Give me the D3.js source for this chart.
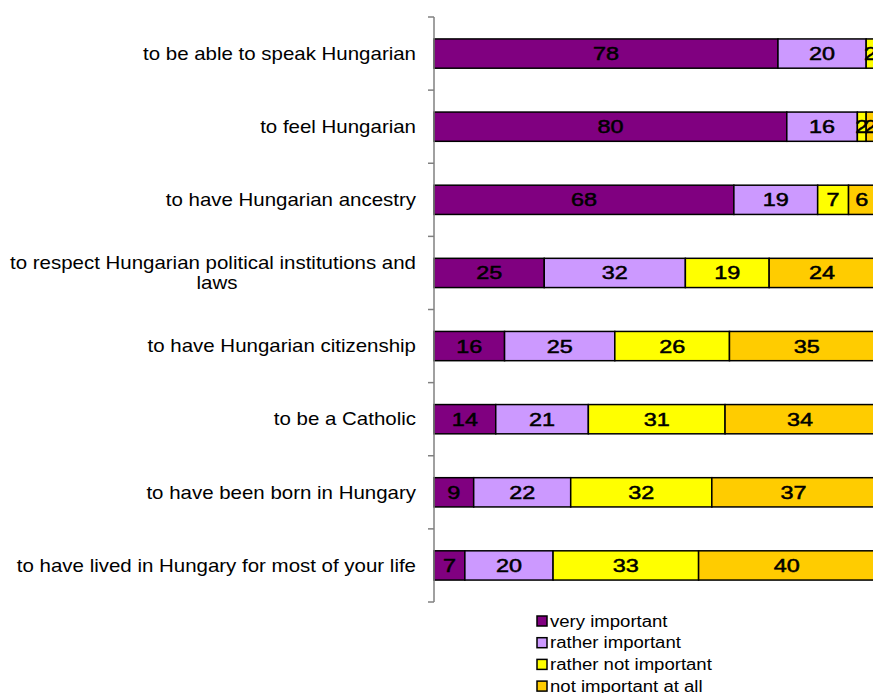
<!DOCTYPE html>
<html>
<head>
<meta charset="utf-8">
<script src="https://cdn.jsdelivr.net/npm/d3@7"></script>
<style>
  html, body { margin: 0; padding: 0; background: #fff; }
  svg { display: block; font-family: "Liberation Sans", Arial, sans-serif; }
</style>
</head>
<body>
<svg id="chart" width="873" height="693"></svg>
<script>
// Survey items (top to bottom)
const categories = [
  "to be able to speak Hungarian",
  "to feel Hungarian",
  "to have Hungarian ancestry",
  "to respect Hungarian political institutions and laws",
  "to have Hungarian citizenship",
  "to be a Catholic",
  "to have been born in Hungary",
  "to have lived in Hungary for most of your life"
];
const seriesNames = ["very important", "rather important", "rather not important", "not important at all"];
const veryImportant      = [78, 80, 68, 25, 16, 14, 9, 7];
const ratherImportant    = [20, 16, 19, 32, 25, 21, 22, 20];
const ratherNotImportant = [2, 2, 7, 19, 26, 31, 32, 33];
const notImportantAtAll  = [0, 2, 6, 24, 35, 34, 37, 40];
const seriesColors = ["#800080", "#CC99FF", "#FFFF00", "#FFCC00"];

const svg = d3.select("#chart");
const margin = { left: 434, top: 17, bottom: 91 };
const plotH = 693 - margin.top - margin.bottom;
const stretch = 1.17;   // wide text rendering

// places a horizontally widened text at (px, py)
function wideText(parent, px, py, str, size, anchor, sx) {
  return parent.append("text")
    .attr("transform", `translate(${px},${py}) scale(${sx},1)`)
    .attr("dy", "0.36em")
    .attr("text-anchor", anchor)
    .attr("font-size", size)
    .attr("fill", "#000")
    .text(str);
}

const rows = categories.map((c, i) => ({
  cat: c,
  vals: [veryImportant[i], ratherImportant[i], ratherNotImportant[i], notImportantAtAll[i]]
}));

const x = d3.scaleLinear().domain([0, 100]).range([margin.left, margin.left + 441]);
const y = d3.scaleBand().domain(categories).range([margin.top, margin.top + plotH]).paddingInner(0.6).paddingOuter(0.3);
const yTicks = d3.scaleBand().domain(categories).range([margin.top, margin.top + plotH]);

// stacked segments
const stacked = rows.map(r => {
  let acc = 0;
  return r.vals.map((v, k) => {
    const seg = { cat: r.cat, k, v, x0: acc, x1: acc + v };
    acc += v;
    return seg;
  });
});

const barG = svg.append("g");
stacked.forEach(segs => {
  const g = barG.append("g");
  const shown = segs.filter(s => s.v > 0);
  g.selectAll("rect").data(shown).join("rect")
    .attr("x", s => x(s.x0))
    .attr("width", s => x(s.x1) - x(s.x0))
    .attr("y", s => y(s.cat))
    .attr("height", y.bandwidth())
    .attr("fill", s => seriesColors[s.k])
    .attr("stroke", "#000")
    .attr("stroke-width", 1.5);
  shown.forEach(s => {
    wideText(g, (x(s.x0) + x(s.x1)) / 2, y(s.cat) + y.bandwidth() / 2, s.v, 18, "middle", 1.3)
      .attr("stroke", "#000").attr("stroke-width", 0.5);
  });
});

// category axis
const axisG = svg.append("g");
axisG.append("line")
  .attr("x1", margin.left).attr("x2", margin.left)
  .attr("y1", margin.top).attr("y2", margin.top + plotH)
  .attr("stroke", "#808080").attr("stroke-width", 1.5);
const boundaries = categories.map(c => yTicks(c)).concat([margin.top + plotH]);
axisG.selectAll("line.tick").data(boundaries).join("line")
  .attr("class", "tick")
  .attr("x1", margin.left - 6).attr("x2", margin.left)
  .attr("y1", d => d).attr("y2", d => d)
  .attr("stroke", "#808080").attr("stroke-width", 1.5);

// category labels, long ones wrapped onto a second centered line
const labelX = 416;
const labelSize = 17.5;
const wraps = { "to respect Hungarian political institutions and laws": ["to respect Hungarian political institutions and", "laws"] };
categories.forEach(c => {
  const cy = y(c) + y.bandwidth() / 2;
  const lines = wraps[c] || [c];
  if (lines.length === 1) {
    wideText(axisG, labelX, cy, c, labelSize, "end", stretch);
  } else {
    const t1 = wideText(axisG, labelX, cy - 10, lines[0], labelSize, "end", stretch);
    const w = t1.node().getComputedTextLength() * stretch;
    wideText(axisG, labelX - w / 2 + 4, cy + 10, lines[1], labelSize, "middle", stretch);
  }
});

// legend
const legend = svg.append("g").attr("transform", "translate(537,621)");
seriesNames.forEach((n, i) => {
  const g = legend.append("g").attr("transform", `translate(0,${i * 21.7})`);
  g.append("rect").attr("x", 0).attr("y", -5).attr("width", 10).attr("height", 10)
    .attr("fill", seriesColors[i]).attr("stroke", "#000").attr("stroke-width", 1.5);
  wideText(g, 13, 0, n, 16, "start", 1.16);
});
</script>
</body>
</html>
